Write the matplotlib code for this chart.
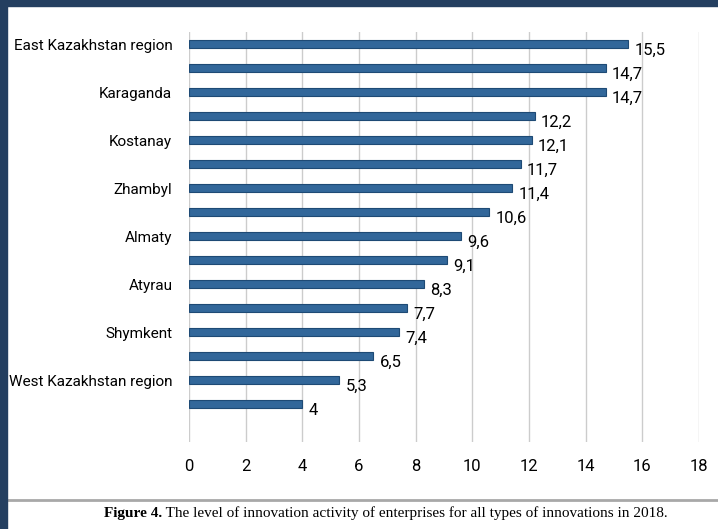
import matplotlib.pyplot as plt
from matplotlib.patches import Rectangle
from matplotlib.lines import Line2D

# data, top to bottom
regions = ['East Kazakhstan region', '', 'Karaganda', '', 'Kostanay', '',
           'Zhambyl', '', 'Almaty', '', 'Atyrau', '', 'Shymkent', '',
           'West Kazakhstan region', '']
values = [15.5, 14.7, 14.7, 12.2, 12.1, 11.7, 11.4, 10.6, 9.6, 9.1,
          8.3, 7.7, 7.4, 6.5, 5.3, 4]
xticks = [0, 2, 4, 6, 8, 10, 12, 14, 16, 18]

font = 'Roboto'

fig = plt.figure(figsize=(7.18, 5.29), dpi=100)
ax = fig.add_axes([189/718, 1-442/529, (699-189)/718, (442-32)/529])

y = list(range(len(values)))[::-1]
ax.barh(y, values, height=0.32, color='#32679A', edgecolor='#1E4A75', linewidth=0.8, zorder=3)

# value labels, comma as decimal sign
for yi, v in zip(y, values):
    txt = ('%g' % v).replace('.', ',')
    ax.text(v + 0.22, yi - 0.25, txt, va='center', ha='left', fontsize=12,
            family=font, color='black')

ax.set_xlim(0, 18)
ax.set_ylim(-1.58, 15.5)
ax.set_xticks(xticks)
ax.set_xticklabels([str(t) for t in xticks], family=font, fontsize=12)
ax.set_yticks(y)
ax.set_yticklabels(regions, family=font, fontsize=11)
ax.tick_params(length=0, pad=12)
ax.tick_params(axis='x', pad=12)
ax.grid(axis='x', color='#cccccc', linewidth=1, zorder=0)
for s in ax.spines.values():
    s.set_visible(False)

# frame and caption
fig.patches.append(Rectangle((0, 1-6/529), 1, 6/529, transform=fig.transFigure,
                             color='#243F60', zorder=10))
fig.patches.append(Rectangle((0, 0), 7/718, 1, transform=fig.transFigure,
                             color='#243F60', zorder=10))
fig.lines.append(Line2D([7/718, 1], [1-500/529, 1-500/529], transform=fig.transFigure,
                        color='#a8a8a8', linewidth=2))
t1 = fig.text(104/718, 1-517/529, 'Figure 4.', ha='left', va='baseline',
              fontsize=11, family='Liberation Serif', weight='bold')
ax.annotate(' The level of innovation activity of enterprises for all types of innovations in 2018.',
            xy=(1, 0), xycoords=t1, va='bottom', ha='left', fontsize=11,
            family='Liberation Serif', annotation_clip=False)

fig.savefig('out.png', dpi=100)
